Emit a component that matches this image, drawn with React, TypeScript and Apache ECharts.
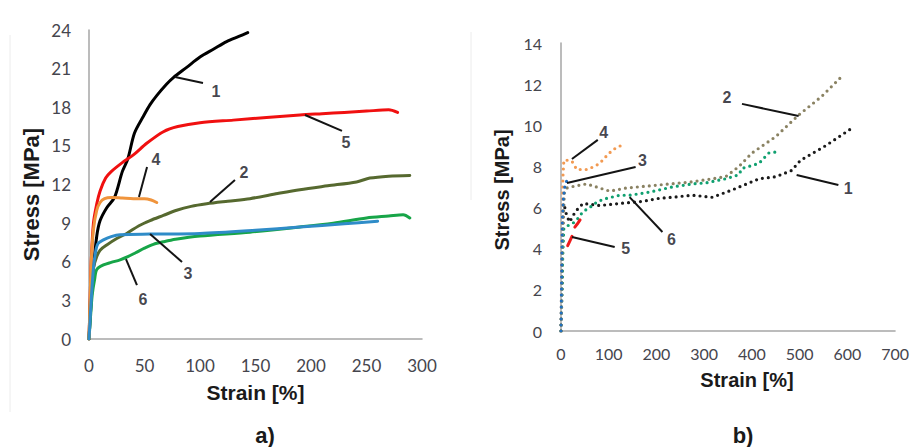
import React, { useEffect, useRef } from "react";
import * as echarts from "echarts";

// ---------- Panel a) : solid curves (strain %, stress MPa) ----------
const A1: number[][] = [[0,0],[2,3],[4,5.5],[7,8],[10,9.2],[16,10.2],[23,11],[30,13],[35,14],[41,16],[49,17.3],[55,18.2],[61,18.9],[70,19.8],[76,20.3],[88,21.1],[100,21.9],[112,22.5],[124,23.1],[135,23.5],[143,23.8]];
const A2: number[][] = [[0,0],[1,2.5],[2,4],[4,5.5],[7,6.4],[10,6.9],[16,7.3],[25,7.8],[34,8.2],[45,8.8],[55,9.2],[67,9.6],[79,10],[92,10.3],[106,10.5],[125,10.7],[145,10.9],[170,11.3],[190,11.6],[215,11.9],[241,12.2],[253,12.5],[270,12.65],[289,12.7]];
const A3: number[][] = [[0,0],[2,3],[4,5.5],[6,6.8],[8,7.4],[13,7.7],[20,7.95],[28,8.1],[55,8.15],[100,8.2],[150,8.45],[190,8.7],[230,8.95],[260,9.15]];
const A4: number[][] = [[0,0],[1,3],[2,6],[4,8.5],[7,10],[10,10.6],[14,10.9],[20,11],[30,10.95],[40,10.9],[50,10.9],[56,10.8],[61,10.6]];
const A5: number[][] = [[0,0],[1,3],[2,6],[4,9],[7,10.5],[10,11.5],[15,12.5],[20,13],[30,13.7],[40,14.3],[52,15.2],[67,16.1],[80,16.5],[100,16.8],[130,17],[160,17.2],[190,17.4],[210,17.5],[230,17.6],[250,17.7],[270,17.8],[278,17.6]];
const A6: number[][] = [[0,0],[2,2.5],[3,3.5],[5,4.6],[7,5.4],[13,5.75],[20,5.95],[28,6.15],[35,6.4],[42,6.7],[50,7.05],[58,7.35],[67,7.55],[78,7.75],[100,8],[145,8.3],[190,8.7],[220,9.0],[250,9.4],[270,9.55],[283,9.65],[289,9.4]];

// ---------- Panel b) : dotted curves ----------
const B1: number[][] = [[0,0],[2,2],[3,4],[4,5.5],[5,6.2],[8,6.0],[12,5.6],[18,5.3],[30,5.8],[46,6.2],[81,6.1],[123,6.2],[171,6.3],[206,6.45],[233,6.5],[275,6.6],[317,6.5],[358,6.85],[415,7.4],[450,7.5],[483,7.8],[502,8.3],[554,9.0],[612,9.9]];
const B2: number[][] = [[0,0],[3,3],[5,5.5],[7,6.7],[12,6.95],[30,7.05],[54,7.15],[81,6.95],[102,6.8],[137,6.95],[206,7.1],[275,7.25],[345,7.5],[373,8.0],[400,8.65],[450,9.45],[498,10.5],[546,11.4],[585,12.3]];
const B3: number[][] = [[0,0],[1,2],[2,4],[3,5.5],[5,6.5],[8,7.0],[12,7.3],[15,7.2]];
const B4: number[][] = [[0,0],[1,2],[2,4],[3,6],[4,7.5],[6,8.3],[15,8.3],[23,8.25],[33,7.85],[54,7.85],[70,8.0],[81,8.15],[95,8.5],[108,8.8],[120,8.95],[133,9.1]];
const B5a: number[][] = [[14,4.15],[18,4.35],[23,4.6]];
const B5b: number[][] = [[29,5.05],[34,5.2],[40,5.4]];
const B6: number[][] = [[0,0],[2,2],[4,4],[6,5],[12,5.1],[23,5.2],[33,5.4],[46,5.8],[60,6.0],[77,6.3],[96,6.45],[123,6.6],[144,6.6],[185,6.75],[233,7.0],[275,7.15],[304,7.2],[345,7.4],[373,7.6],[379,7.9],[415,8.15],[435,8.65],[450,8.7]];

// ---------- Curve labels (data coordinates) ----------
const A_LABELS = [
  { name: "1", value: [114.4, 19.26] },
  { name: "5", value: [231.5, 15.3] },
  { name: "4", value: [60.4, 13.98] },
  { name: "2", value: [139.6, 12.97] },
  { name: "3", value: [89.2, 5.05] },
  { name: "6", value: [48.6, 3.1] },
];
const A_LEADERS: number[][][] = [
  [[77.5, 20.35], [102.7, 19.88]],
  [[194.6, 17.4], [227.9, 16.16]],
  [[52.3, 13.36], [45, 11.03]],
  [[131.5, 12.35], [109, 10.64]],
  [[55, 8.16], [83.8, 5.98]],
  [[33.3, 6.21], [43.2, 4.19]],
];
const B_LABELS = [
  { name: "4", value: [89.6, 9.63] },
  { name: "3", value: [170.8, 8.31] },
  { name: "2", value: [347.9, 11.33] },
  { name: "1", value: [602, 6.95] },
  { name: "6", value: [231.2, 4.47] },
  { name: "5", value: [135.4, 3.99] },
];
const B_LEADERS: number[][][] = [
  [[77.1, 9.29], [22.9, 8.36]],
  [[156.3, 7.97], [12.5, 7.19]],
  [[379.2, 11.04], [497.9, 10.45]],
  [[493.7, 7.58], [581.2, 7.1]],
  [[143.7, 6.51], [212.5, 4.81]],
  [[22.9, 4.57], [112.5, 4.08]],
];

const COLORS = {
  c1: "#000000",
  c2: "#56692f",
  c3: "#2f8cc8",
  c4: "#f0943c",
  c5: "#f01010",
  c6: "#17a548",
};
const BCOLORS = {
  c1: "#1a1a1a",
  c2: "#8a8262",
  c3: "#1f6fc0",
  c4: "#f29a52",
  c5: "#ee1c1c",
  c6: "#10a070",
};

const TICK_FONT = "Lato, 'Open Sans', sans-serif";
const TITLE_FONT = "'Liberation Sans', Arial, sans-serif";

export default function App() {
  const ref = useRef<HTMLDivElement>(null);
  useEffect(() => {
    if (!ref.current) return;
    const chart = echarts.init(ref.current, undefined, { renderer: "svg" });

    const axisLine = { show: true, lineStyle: { color: "#a6a6a6", width: 1.5 } };
    const axisLabel = (margin: number, size: number) => ({
      color: "#45454d",
      fontSize: size,
      fontFamily: TICK_FONT,
      margin,
    });
    const nameStyle = (size: number, padding?: number[]) => ({
      color: "#1a1a1a",
      fontSize: size,
      fontWeight: "bold" as const,
      fontFamily: TITLE_FONT,
      padding,
    });

    const solid = (data: number[][], color: string, xi: number, z = 2) => ({
      type: "line",
      data,
      xAxisIndex: xi,
      yAxisIndex: xi,
      showSymbol: false,
      symbol: "none",
      smooth: 0.3,
      z,
      lineStyle: { color, width: 3, cap: "round", join: "round" },
    });
    const dotted = (data: number[][], color: string) => ({
      type: "line",
      data,
      xAxisIndex: 1,
      yAxisIndex: 1,
      showSymbol: false,
      symbol: "none",
      lineStyle: { color, width: 3.2, type: [0, 6], cap: "round" },
    });
    const labelSeries = (data: any[], xi: number) => ({
      type: "scatter",
      xAxisIndex: xi,
      yAxisIndex: xi,
      symbolSize: 0,
      data,
      z: 10,
      label: {
        show: true,
        position: "inside",
        formatter: "{b}",
        color: "#14141e",
        fontSize: 16,
        fontWeight: "bold",
        fontFamily: TITLE_FONT,
      },
    });
    const leaderSeries = (segs: number[][][], xi: number) => ({
      type: "lines",
      coordinateSystem: "cartesian2d",
      xAxisIndex: xi,
      yAxisIndex: xi,
      z: 9,
      symbol: "none",
      data: segs.map((s) => ({ coords: s })),
      lineStyle: { color: "#141414", width: 2, opacity: 1 },
    });

    chart.setOption({
      animation: false,
      backgroundColor: "#ffffff",
      grid: [
        { left: 89, top: 30, width: 333, height: 309 },
        { left: 561, top: 43, width: 336, height: 288 },
      ],
      xAxis: [
        {
          gridIndex: 0, type: "value", min: 0, max: 300, interval: 50,
          axisLine, axisTick: { show: false }, splitLine: { show: false },
          axisLabel: axisLabel(18, 17),
          name: "Strain [%]", nameLocation: "middle", nameGap: 43,
          nameTextStyle: nameStyle(21),
        },
        {
          gridIndex: 1, type: "value", min: 0, max: 700, interval: 100,
          axisLine, axisTick: { show: false }, splitLine: { show: false },
          axisLabel: axisLabel(14, 16),
          name: "Strain [%]", nameLocation: "middle", nameGap: 39,
          nameTextStyle: nameStyle(20, [0, 0, 0, 38]),
        },
      ],
      yAxis: [
        {
          gridIndex: 0, type: "value", min: 0, max: 24, interval: 3,
          axisLine, axisTick: { show: false }, splitLine: { show: false },
          axisLabel: axisLabel(18, 17),
          name: "Stress [MPa]", nameLocation: "middle", nameGap: 47,
          nameTextStyle: nameStyle(22, [0, 20, 0, 0]),
        },
        {
          gridIndex: 1, type: "value", min: 0, max: 14, interval: 2,
          axisLine, axisTick: { show: false }, splitLine: { show: false },
          axisLabel: axisLabel(19, 16),
          name: "Stress [MPa]", nameLocation: "middle", nameGap: 49,
          nameTextStyle: nameStyle(20, [0, 6, 0, 0]),
        },
      ],
      series: [
        solid(A1, COLORS.c1, 0),
        solid(A5, COLORS.c5, 0),
        solid(A2, COLORS.c2, 0),
        solid(A4, COLORS.c4, 0, 3),
        solid(A6, COLORS.c6, 0),
        solid(A3, COLORS.c3, 0, 3),
        labelSeries(A_LABELS, 0),
        leaderSeries(A_LEADERS, 0),
        dotted(B1, BCOLORS.c1),
        dotted(B2, BCOLORS.c2),
        dotted(B6, BCOLORS.c6),
        dotted(B4, BCOLORS.c4),
        dotted(B3, BCOLORS.c3),
        {
          type: "line", data: B5a, xAxisIndex: 1, yAxisIndex: 1, showSymbol: false, symbol: "none",
          lineStyle: { color: BCOLORS.c5, width: 3, cap: "round" }, z: 4,
        },
        {
          type: "line", data: B5b, xAxisIndex: 1, yAxisIndex: 1, showSymbol: false, symbol: "none",
          lineStyle: { color: BCOLORS.c5, width: 3, cap: "round" }, z: 4,
        },
        labelSeries(B_LABELS, 1),
        leaderSeries(B_LEADERS, 1),
      ],
      graphic: [
        { type: "line", shape: { x1: 10, y1: 35, x2: 10, y2: 412 }, style: { stroke: "#ececec", lineWidth: 1 } },
        { type: "line", shape: { x1: 471, y1: 32, x2: 471, y2: 200 }, style: { stroke: "#ececec", lineWidth: 1 } },
        {
          type: "text", x: 265, y: 435,
          style: { text: "a)", fill: "#1a1a1a", fontSize: 22, fontWeight: "bold", fontFamily: TITLE_FONT, align: "center", verticalAlign: "middle" },
        },
        {
          type: "text", x: 743, y: 435,
          style: { text: "b)", fill: "#1a1a1a", fontSize: 22, fontWeight: "bold", fontFamily: TITLE_FONT, align: "center", verticalAlign: "middle" },
        },
      ],
    });
    return () => chart.dispose();
  }, []);
  return (
    <div
      ref={ref}
      style={{ position: "absolute", left: 0, top: 0, width: 912, height: 447, background: "#fff" }}
    />
  );
}
